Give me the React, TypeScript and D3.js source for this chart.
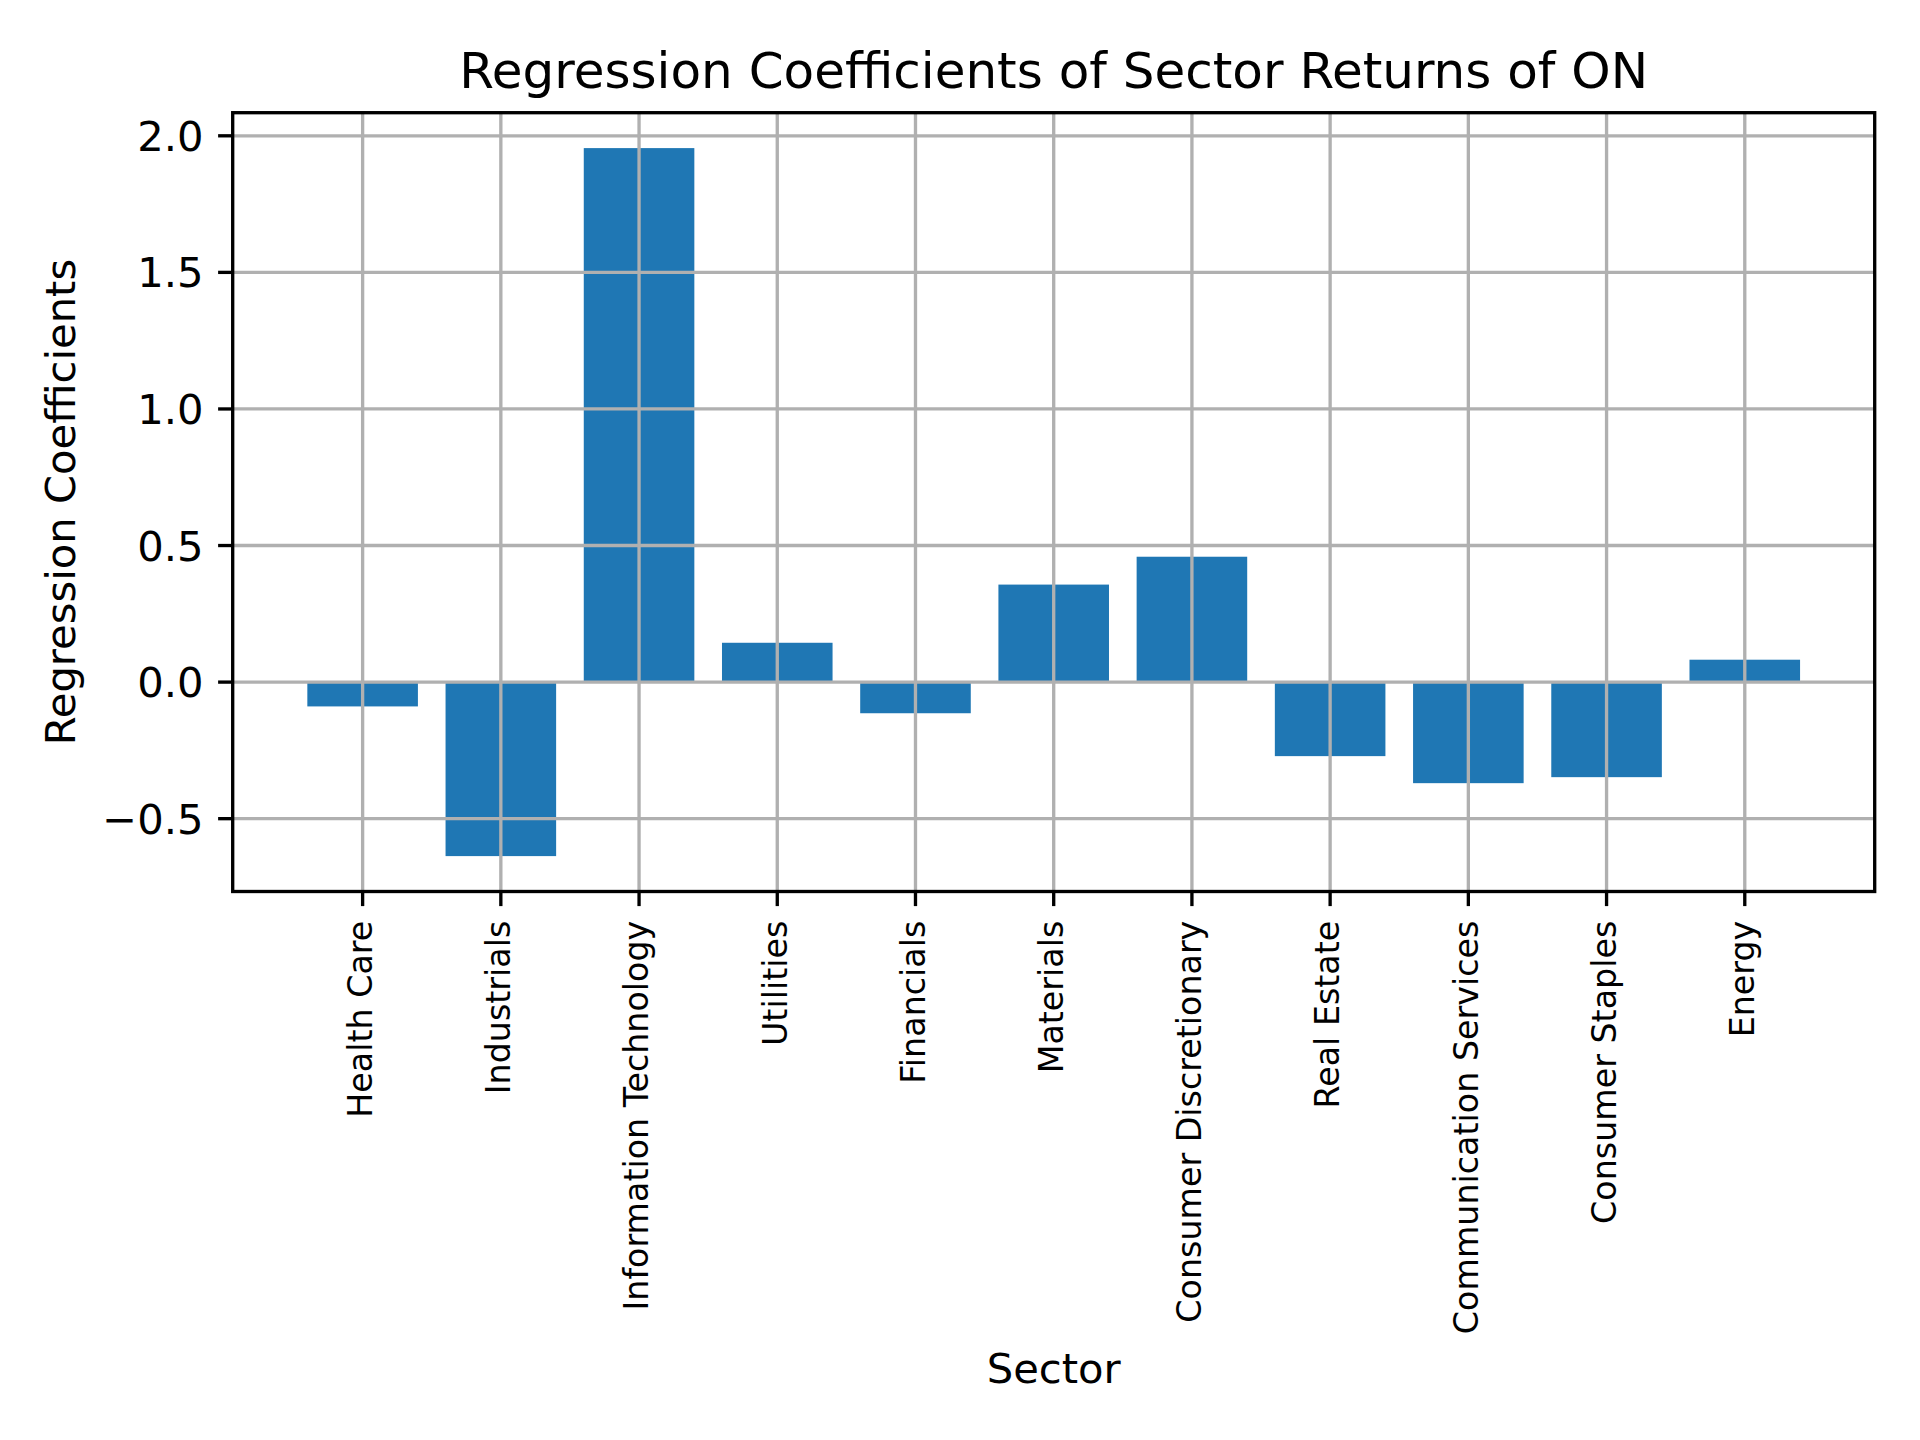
import React from "react";
import * as d3 from "d3";

const sectors = [
  "Health Care",
  "Industrials",
  "Information Technology",
  "Utilities",
  "Financials",
  "Materials",
  "Consumer Discretionary",
  "Real Estate",
  "Communication Services",
  "Consumer Staples",
  "Energy",
];
const coefficients = [-0.089, -0.637, 1.955, 0.144, -0.114, 0.357, 0.459, -0.271, -0.37, -0.348, 0.082];
const yTicks = [-0.5, 0.0, 0.5, 1.0, 1.5, 2.0];
const title = "Regression Coefficients of Sector Returns of ON";
const xLabel = "Sector";
const yLabel = "Regression Coefficients";

const W = 1920;
const H = 1440;
const L = 232.7;
const R = 1874.7;
const T = 112.7;
const B = 891.5;
const FONT = "DejaVu Sans, sans-serif";
const LW = 3.33;
const TICK = 14.6;
const PAD = 14.6;

export default function App() {
  const x = d3.scaleBand<string>().domain(sectors).range([L, R]).paddingInner(0.2).paddingOuter(0.54);
  const lo = Math.min(0, d3.min(coefficients) as number);
  const hi = Math.max(0, d3.max(coefficients) as number);
  const m = 0.05 * (hi - lo);
  const y = d3.scaleLinear().domain([lo - m, hi + m]).range([B, T]);
  const fmt = d3.format(".1f");
  const cx = (s: string) => (x(s) as number) + x.bandwidth() / 2;

  return (
    <svg width={W} height={H} style={{ position: "absolute", left: 0, top: 0, background: "#fff" }} fontFamily={FONT}>
      <rect x={0} y={0} width={W} height={H} fill="#fff" />
      {sectors.map((s, i) => {
        const v = coefficients[i];
        return (
          <rect
            key={s}
            x={x(s)}
            width={x.bandwidth()}
            y={Math.min(y(v), y(0))}
            height={Math.abs(y(v) - y(0))}
            fill="#1f77b4"
          />
        );
      })}
      {/* grid */}
      {yTicks.map((t) => (
        <line key={"gy" + t} x1={L} x2={R} y1={y(t)} y2={y(t)} stroke="#b0b0b0" strokeWidth={LW} />
      ))}
      {sectors.map((s) => (
        <line key={"gx" + s} x1={cx(s)} x2={cx(s)} y1={T} y2={B} stroke="#b0b0b0" strokeWidth={LW} />
      ))}
      {/* spines */}
      <rect x={L} y={T} width={R - L} height={B - T} fill="none" stroke="#000" strokeWidth={LW} strokeLinecap="square" />
      {/* y ticks */}
      {yTicks.map((t) => (
        <g key={"ty" + t}>
          <line x1={L - TICK} x2={L} y1={y(t)} y2={y(t)} stroke="#000" strokeWidth={LW} />
          <text x={L - TICK - PAD} y={y(t)} dy="0.36em" textAnchor="end" fontSize={41.7} fill="#000">
            {fmt(t)}
          </text>
        </g>
      ))}
      {/* x ticks */}
      {sectors.map((s) => (
        <g key={"tx" + s}>
          <line x1={cx(s)} x2={cx(s)} y1={B} y2={B + TICK} stroke="#000" strokeWidth={LW} />
          <text
            transform={`translate(${cx(s)},${B + TICK + PAD}) rotate(-90)`}
            textAnchor="end"
            dy="0.28em"
            fontSize={33.3}
            fill="#000"
          >
            {s}
          </text>
        </g>
      ))}
      <text x={(L + R) / 2} y={87.8} textAnchor="middle" fontSize={50} fill="#000">
        {title}
      </text>
      <text x={(L + R) / 2} y={1382.5} textAnchor="middle" fontSize={41.7} fill="#000">
        {xLabel}
      </text>
      <text transform={`translate(75,${(T + B) / 2}) rotate(-90)`} textAnchor="middle" fontSize={41.7} fill="#000">
        {yLabel}
      </text>
    </svg>
  );
}
